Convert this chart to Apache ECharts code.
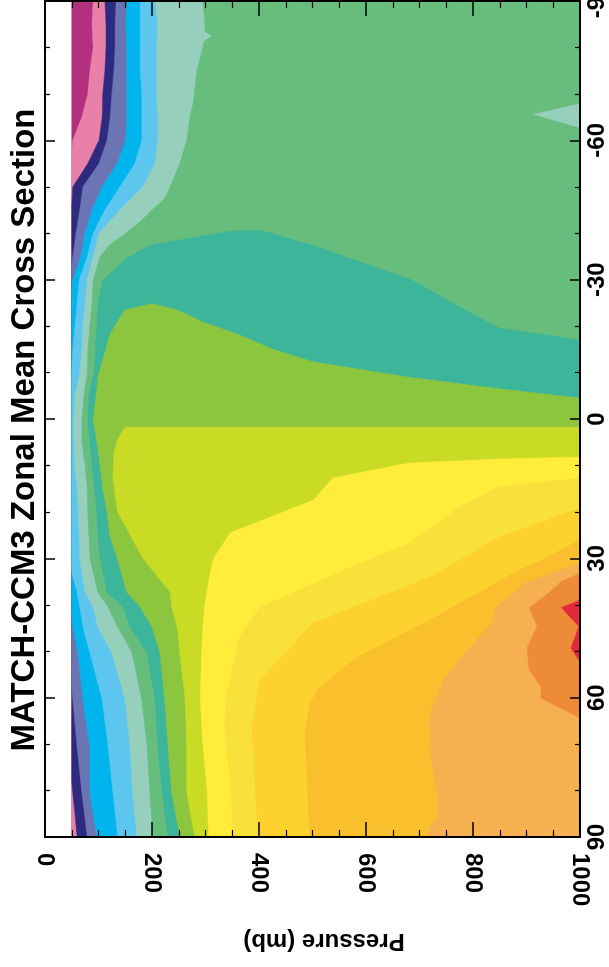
<!DOCTYPE html>
<html><head><meta charset="utf-8">
<script src="https://cdn.jsdelivr.net/npm/echarts@6/dist/echarts.min.js"></script>
<style>html,body{margin:0;padding:0;background:#fff}#c{width:609px;height:967px}</style>
</head><body><div id="c"></div>
<script>
const chartTitle = 'MATCH-CCM3 Zonal Mean Cross Section';
const pressureAxisName = 'Pressure (mb)';
const pressureTicks = [0, 200, 400, 600, 800, 1000];
const latitudeTicks = [-90, -60, -30, 0, 30, 60, 90];

const levelColors = ['#b3307f','#e980aa','#2e2a80','#6c75b3','#00b5ee','#5cc6ef','#96d0bd','#66bd7c',
  '#3cb59a','#8cc63f','#c9db24','#ffec3b','#fae03b','#fdd22f','#f9bf2c','#f6b050','#ee8b38','#e4283c'];

// Each band: rows of [latitude, pressure where the level starts, pressure where it ends] (mb)
const bandMagenta = [[-90, 50, 1000], [90, 50, 1000]];
const bandPink = [[-90, 90, 1000], [-85, 88, 1000], [-80, 90, 1000], [-75, 84, 1000], [-70, 80, 1000], [-65, 69, 1000], [-60, 52, 1000], [-57.5, 50, 1000], [90, 50, 1000]];
const bandNavy = [[-90, 112, 1000], [-85, 114, 1000], [-80, 114, 1000], [-75, 112, 1000], [-70, 108, 1000], [-65, 107, 1000], [-60, 101, 1000], [-55, 80, 1000], [-50, 52, 1000], [-46, 50, 1000], [78, 50, 1000], [80.5, 52, 1000], [85, 56, 1000], [90, 60, 1000]];
const bandSlate = [[-90, 133, 1000], [-85, 131, 1000], [-80, 131, 1000], [-75, 129, 1000], [-70, 125, 1000], [-65, 122, 1000], [-60, 116, 1000], [-55, 101, 1000], [-50, 71, 1000], [-45, 65, 1000], [-40, 58, 1000], [-35, 52, 1000], [-33, 50, 1000], [58, 50, 1000], [60.5, 52, 1000], [70.6, 60, 1000], [80.5, 69, 1000], [90, 79, 1000]];
const bandCyan = [[-90, 153, 1000], [-85, 151, 1000], [-80, 153, 1000], [-75, 153, 1000], [-70, 153, 1000], [-65, 153, 1000], [-60, 151, 1000], [-55, 135, 1000], [-50, 107, 1000], [-45, 88, 1000], [-40, 75, 1000], [-35, 67, 1000], [-30, 52, 1000], [-28, 50, 1000], [43, 50, 1000], [44.8, 52, 1000], [50.4, 62, 1000], [60.5, 71, 1000], [70.6, 84, 1000], [80.5, 84, 1000], [90, 97, 1000]];
const bandLightBlue = [[-90, 178, 1000], [-85, 178, 1000], [-80, 178, 1000], [-75, 178, 1000], [-70, 181, 1000], [-65, 181, 1000], [-60, 181, 1000], [-55, 168, 1000], [-50, 140, 1000], [-45, 112, 1000], [-40, 90, 1000], [-35, 79, 1000], [-30, 64, 1000], [-25, 60, 1000], [-20, 56, 1000], [-15, 52, 1000], [-10, 50, 1000], [33, 50, 1000], [37.3, 60, 1000], [40.5, 65, 1000], [44.8, 71, 1000], [50.4, 84, 1000], [60.5, 107, 1000], [70.6, 118, 1000], [80.5, 127, 1000], [90, 136, 1000]];
const bandLightTeal = [[-90, 206, 1000], [-85, 211, 1000], [-80, 209, 1000], [-75, 209, 1000], [-70, 209, 1000], [-65, 211, 1000], [-60, 211, 1000], [-55, 206, 1000], [-50, 183, 1000], [-45, 140, 1000], [-40, 101, 1000], [-35, 90, 1000], [-30, 79, 1000], [-25, 75, 1000], [-20, 71, 1000], [-15, 69, 1000], [-10, 65, 1000], [-5, 56, 1000], [0, 54, 1000], [5, 54, 1000], [10, 56, 1000], [15, 60, 1000], [20, 62, 1000], [25, 64, 1000], [30, 65, 1000], [37.3, 75, 1000], [40.5, 90, 1000], [44.8, 99, 1000], [50.4, 125, 1000], [60.5, 150, 1000], [70.6, 159, 1000], [80.5, 164, 1000], [90, 172, 1000]];
const bandGreen = [[-90, 295, 1000], [-85, 299, 1000], [-83.4, 299, 1000], [-82.5, 312, 1000], [-81.2, 297, 1000], [-80, 295, 1000], [-75, 284, 1000], [-70, 279, 1000], [-68, 277, 1000], [-65.6, 272, 910], [-62.6, 268, 1000], [-60, 265, 1000], [-55, 252, 1000], [-50, 234, 1000], [-47.5, 224, 1000], [-45, 200, 1000], [-42.5, 178, 1000], [-40, 151, 1000], [-37.5, 121, 1000], [-35, 103, 1000], [-30, 90, 1000], [-25, 88, 1000], [-20, 84, 1000], [-15, 80, 1000], [-10, 79, 1000], [-5, 73, 1000], [0, 69, 1000], [5, 69, 1000], [10, 75, 1000], [15, 79, 1000], [20, 80, 1000], [25, 82, 1000], [30, 84, 1000], [37.3, 99, 1000], [40.5, 118, 1000], [44.8, 136, 1000], [50.4, 163, 1000], [60.5, 181, 1000], [70.6, 191, 1000], [80.5, 196, 1000], [90, 202, 1000]];
const bandTeal = [[-40.5, 350, 408], [-38.5, 249, 467], [-37.4, 196, 501], [-34.6, 153, 570], [-29.9, 108, 686], [-25, 99, 761], [-20.7, 97, 830], [-19.6, 97, 849], [-17, 95, 1000], [-15, 95, 1000], [-10, 92, 1000], [-5, 82, 1000], [0, 80, 1000], [5, 84, 1000], [10, 88, 1000], [15, 93, 1000], [20, 97, 1000], [25, 99, 1000], [30, 103, 1000], [37.3, 116, 1000], [40.5, 146, 1000], [44.8, 159, 1000], [50.4, 191, 1000], [60.5, 206, 1000], [70.6, 211, 1000], [80.5, 219, 1000], [90, 230, 1000]];
const bandYellowGreen = [[-24.8, 200, 200], [-23.5, 150, 247], [-20.9, 135, 295], [-18.1, 121, 364], [-15, 114, 426], [-12.3, 107, 501], [-9, 99, 680], [-6.5, 97, 849], [-4.5, 95, 1000], [0, 90, 1000], [5, 97, 1000], [10, 103, 1000], [15, 108, 1000], [20, 116, 1000], [25, 121, 1000], [30, 135, 1000], [37.3, 153, 1000], [40.5, 178, 1000], [44.8, 200, 1000], [50.4, 215, 1000], [60.5, 224, 1000], [70.6, 230, 1000], [80.5, 237, 1000], [90, 252, 1000]];
const bandLime = [[1.8, 150, 1000], [4.5, 135, 1000], [7.3, 129, 1000], [13, 127, 1000], [20, 136, 1000], [25, 159, 1000], [30, 183, 1000], [37.3, 234, 1000], [40.5, 237, 1000], [44.8, 247, 1000], [50.4, 252, 1000], [60.5, 262, 1000], [70.6, 265, 1000], [80.5, 265, 1000], [90, 280, 1000]];
const bandYellow = [[8.2, 1000, 1000], [8.6, 849, 1000], [9.5, 680, 1000], [12.7, 538, 1000], [17.5, 501, 1000], [24.5, 346, 1000], [30.3, 314, 1000], [35, 306, 1000], [40, 299, 1000], [45, 295, 1000], [50, 293, 1000], [60, 290, 1000], [70, 295, 1000], [80, 303, 1000], [90, 306, 1000]];
const bandLightGold = [[12.7, 1000, 1000], [14.6, 849, 1000], [19, 774, 1000], [26.8, 680, 1000], [30.4, 602, 1000], [40.5, 402, 1000], [46.9, 364, 1000], [54, 350, 1000], [60.5, 338, 1000], [66.3, 336, 1000], [82, 349, 1000], [90, 351, 1000]];
const bandGold = [[19.2, 1000, 1000], [25.4, 849, 1000], [30.4, 774, 1000], [34, 720, 1000], [43.9, 501, 1000], [56.2, 402, 1000], [66.3, 387, 1000], [86.4, 396, 1000], [90, 398, 1000]];
const bandGoldOrange = [[26, 1000, 1000], [30.4, 929, 1000], [32.5, 886, 1000], [43.3, 720, 1000], [51.3, 583, 1000], [57.7, 514, 1000], [61.2, 495, 1000], [67.6, 486, 1000], [90, 495, 1000]];
const bandLightOrange = [[31, 1000, 1000], [35.2, 899, 1000], [40.6, 843, 1000], [43.7, 836, 1000], [51.9, 774, 1000], [56.9, 742, 1000], [64.1, 718, 1000], [73.4, 722, 1000], [80.5, 733, 1000], [85.7, 733, 1000], [87.9, 718, 1000], [90, 718, 1000]];
const bandOrange = [[33.2, 1000, 1000], [35, 965, 1000], [37.4, 942, 1000], [40.6, 905, 1000], [44.7, 920, 1000], [49.3, 901, 1000], [54, 905, 1000], [57.7, 927, 1000], [60.1, 927, 1000], [64.4, 1000, 1000]];
const bandRed = [[39, 1000, 1000], [40.6, 965, 1000], [44.7, 998, 1000], [49.3, 983, 1000], [52.3, 1000, 1000]];

const bands = [bandMagenta, bandPink, bandNavy, bandSlate, bandCyan, bandLightBlue, bandLightTeal, bandGreen,
  bandTeal, bandYellowGreen, bandLime, bandYellow, bandLightGold, bandGold, bandGoldOrange, bandLightOrange, bandOrange, bandRed];

const chart = echarts.init(document.getElementById('c'), null, {renderer: 'canvas'});

function renderItem(params, api) {
  const k = api.value(2);
  const rows = bands[k];
  const pts = [];
  for (let i = 0; i < rows.length; i++) pts.push(api.coord([rows[i][1], rows[i][0]]));
  for (let i = rows.length - 1; i >= 0; i--) pts.push(api.coord([rows[i][2], rows[i][0]]));
  return {type: 'polygon', shape: {points: pts}, style: {fill: levelColors[k], stroke: levelColors[k], lineWidth: 0.5}};
}

const FONT = 'Liberation Sans, Arial, Helvetica, sans-serif';
const frame = {show: true, onZero: false, lineStyle: {color: '#000', width: 2}};
function xAx(pos, labels) {
  return {
    type: 'value', position: pos, min: pressureTicks[0], max: pressureTicks[pressureTicks.length - 1],
    interval: pressureTicks[1] - pressureTicks[0], z: 10,
    axisLine: frame,
    axisTick: {show: true, inside: true, length: 15, lineStyle: {color: '#000', width: 1.5}},
    minorTick: {show: true, splitNumber: 4, length: 7, lineStyle: {color: '#000', width: 1.2}},
    splitLine: {show: false}, minorSplitLine: {show: false},
    axisLabel: labels ? {show: true, rotate: -90, margin: 16, fontSize: 24, fontWeight: 'bold', color: '#000',
      fontFamily: FONT, showMinLabel: true, showMaxLabel: true, hideOverlap: false,
      formatter: function (v) { return String(v); }} : {show: false}
  };
}
function yAx(pos, labels) {
  return {
    type: 'value', position: pos, min: latitudeTicks[0], max: latitudeTicks[latitudeTicks.length - 1],
    interval: latitudeTicks[1] - latitudeTicks[0], inverse: true, z: 10,
    axisLine: frame,
    axisTick: {show: true, inside: true, length: 10, lineStyle: {color: '#000', width: 1.5}},
    minorTick: {show: true, splitNumber: 3, length: 5, lineStyle: {color: '#000', width: 1.2}},
    splitLine: {show: false}, minorSplitLine: {show: false},
    axisLabel: labels ? {show: true, rotate: 90, margin: 5, fontSize: 24, fontWeight: 'bold', color: '#000',
      fontFamily: FONT, showMinLabel: true, showMaxLabel: true, hideOverlap: false,
      formatter: function (v) { return String(v); }} : {show: false}
  };
}

chart.setOption({
  animation: false,
  backgroundColor: '#fff',
  grid: {left: 45, top: 1, width: 535, height: 836, containLabel: false, outerBoundsMode: 'none'},
  xAxis: [xAx('bottom', true), xAx('top', false)],
  yAxis: [yAx('right', true), yAx('left', false)],
  graphic: [
    {type: 'text', x: 25, y: 430, rotation: Math.PI / 2, z: 100,
      style: {text: chartTitle, fontSize: 33, fontWeight: 'bold', fontFamily: FONT, fill: '#000', align: 'center', verticalAlign: 'middle'}},
    {type: 'text', x: 324, y: 941, rotation: Math.PI, z: 100,
      style: {text: pressureAxisName, fontSize: 24, fontWeight: 'bold', fontFamily: FONT, fill: '#000', align: 'center', verticalAlign: 'middle'}}
  ],
  series: [{
    type: 'custom', coordinateSystem: 'cartesian2d', xAxisIndex: 0, yAxisIndex: 0,
    renderItem: renderItem, clip: true, silent: true, animation: false,
    encode: {x: 0, y: 1},
    data: bands.map((b, i) => [500, 0, i])
  }]
});
</script></body></html>
